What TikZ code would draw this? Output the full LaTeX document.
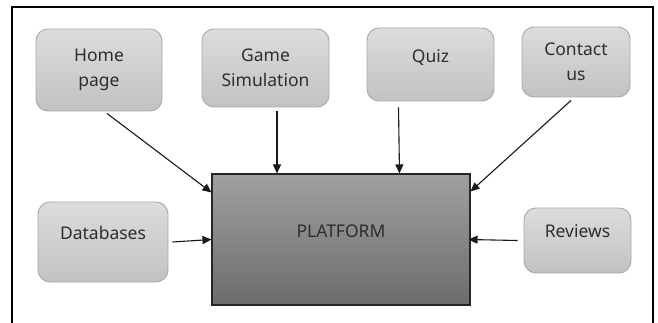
\documentclass[tikz,border=0pt]{standalone}
\usepackage{fontspec}
\setmainfont{Noto Sans}
\usetikzlibrary{arrows.meta,calc}
\definecolor{boxtop}{HTML}{DCDCDC}
\definecolor{boxbot}{HTML}{C2C2C2}
\definecolor{boxline}{HTML}{A9A9A9}
\definecolor{plattop}{HTML}{A0A0A0}
\definecolor{platbot}{HTML}{6C6C6C}
\definecolor{txt}{HTML}{2E2E2E}
\tikzset{
  module/.style={rectangle, rounded corners=12pt, draw=boxline, line width=0.9pt,
    top color=boxtop, bottom color=boxbot, text=txt, align=center,
    font=\fontsize{17.5}{25}\selectfont, inner sep=0pt},
  core/.style={rectangle, draw=black!85, line width=1.1pt,
    top color=plattop, bottom color=platbot, inner sep=0pt},
  caption/.style={text=txt, font=\fontsize{17.5}{25}\selectfont, inner sep=0pt},
  link/.style={draw=black!90, line width=1.1pt, -{Triangle[length=9pt,width=8pt]}},
  frame/.style={draw=black, line width=1.4pt}
}
\begin{document}
\begin{tikzpicture}[x=1pt,y=-1pt]
\useasboundingbox (0,0) rectangle (658,323);
\fill[white] (0,0) rectangle (658,323);
% open frame around the diagram
\draw[frame] (12,323) -- (12,7) -- (653,7) -- (653,323);

% surrounding modules
\node[module, minimum width=126pt, minimum height=82pt] (home) at (99,70) {Home\\page};
\node[module, minimum width=127pt, minimum height=78pt] (game) at (265.5,68) {Game\\Simulation};
\node[module, minimum width=127pt, minimum height=73pt] (quiz) at (430.5,64.5) {};
\node[caption] at ([yshift=7pt]quiz.center) {Quiz};
\node[module, minimum width=108pt, minimum height=70pt] (contact) at (576,62) {Contact\\us};
\node[module, minimum width=130pt, minimum height=80pt] (db) at (103,242) {};
\node[caption] at ([yshift=9pt]db.center) {Databases};
\node[module, minimum width=107pt, minimum height=65pt] (rev) at (577.5,240.5) {};
\node[caption] at ([yshift=9pt]rev.center) {Reviews};

% central platform
\node[core, minimum width=258pt, minimum height=131pt] (plat) at (341,239.5) {};
\node[caption] at ([yshift=8.5pt]plat.center) {PLATFORM};

% connectors into the platform
\draw[link] ([xshift=8pt,yshift=-2pt]home.south) -- ([yshift=-19pt]plat.north west);
\coordinate (gs) at ([xshift=11.5pt,yshift=-4pt]game.south);
\draw[link] (gs) -- (gs |- plat.north);
\coordinate (qs) at ([xshift=-32pt,yshift=-6pt]quiz.south);
\draw[link] (qs) -- ([xshift=1pt]qs |- plat.north);
\draw[link] ([xshift=-5pt,yshift=-3pt]contact.south) -- ([yshift=-18pt]plat.north east);
\draw[link] ([xshift=4pt]db.east) -- (plat.west);
\draw[link] ([xshift=-6pt]rev.west) -- ([xshift=-2pt]plat.east);
\end{tikzpicture}
\end{document}
